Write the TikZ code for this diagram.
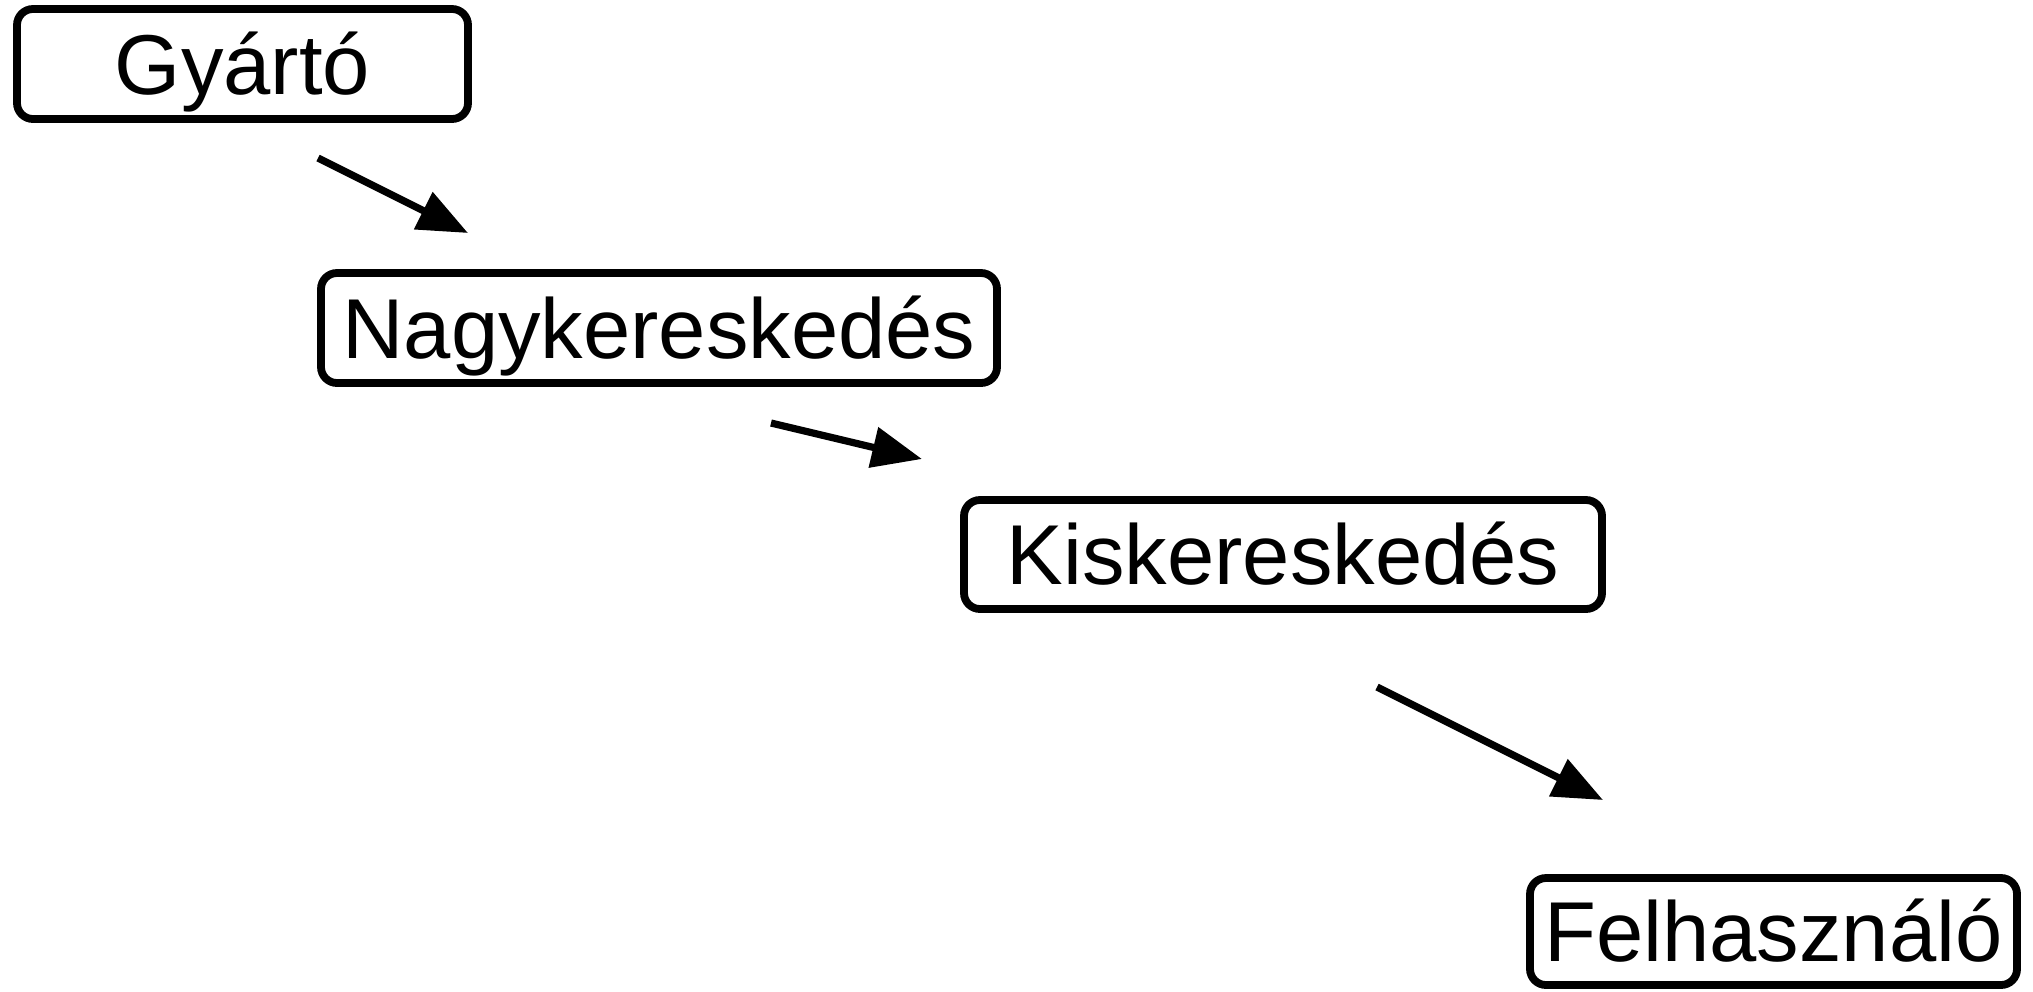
\documentclass[tikz,border=0pt]{standalone}
\usepackage{fontspec}
\setmainfont{Liberation Sans}
\usetikzlibrary{arrows.meta}
\begin{document}
\begin{tikzpicture}[x=0.5bp,y=-0.5bp,
  box/.style={draw=black, line width=3.9bp, rounded corners=8bp, inner sep=0pt,
    font=\fontsize{42.5bp}{50bp}\selectfont, text height=30.4bp, text depth=0pt, align=center},
  flow/.style={line width=3.6bp, -{Triangle[length=25bp,width=20bp]}}]
\useasboundingbox (0,0) rectangle (2033,991);
\node[box, minimum width=225.5bp, minimum height=55bp] (g) at (242.5,64) {Gyártó};
\node[box, minimum width=338bp, minimum height=55bp] (n) at (659,328) {Nagykereskedés};
\node[box, minimum width=319bp, minimum height=54.5bp] (k) at (1283,554.5) {Kiskereskedés};
\node[box, minimum width=243.5bp, minimum height=53.5bp] (f) at (1773.5,931.5) {Felhasználó};
\coordinate (a1s) at (318,158);
\coordinate (a1e) at (468,233);
\coordinate (a2s) at (771,423);
\coordinate (a2e) at (922,459);
\coordinate (a3s) at (1377,687);
\coordinate (a3e) at (1603,800);
\draw[flow] (a1s) -- (a1e);
\draw[flow] (a2s) -- (a2e);
\draw[flow] (a3s) -- (a3e);
\end{tikzpicture}
\end{document}
